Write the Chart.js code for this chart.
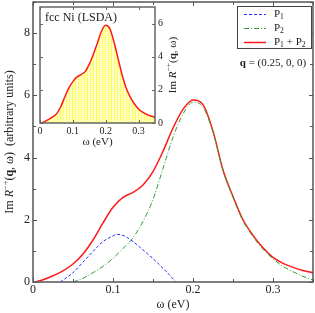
<!DOCTYPE html>
<html lang="en">
<head>
    <meta charset="UTF-8">
    <title>Im R-+ fcc Ni</title>
    <script src="https://cdn.jsdelivr.net/npm/chart.js"></script>
    <style>
        body { margin: 0; background: #fff; }
        #wrap { position: relative; width: 315px; height: 313px; }
        canvas { position: absolute; left: 0; top: 0; }
        #inset { pointer-events: none; }
    </style>
</head>
<body>
<div id="wrap">
    <canvas id="main" width="315" height="313"></canvas>
    <canvas id="inset" width="315" height="313"></canvas>
</div>
<script>
// omega in eV, values in arbitrary units
const totalOmega = [0.003, 0.0125, 0.025, 0.0375, 0.05, 0.0625, 0.075, 0.0875, 0.1, 0.1125, 0.125, 0.1375, 0.15, 0.1625, 0.175, 0.1875, 0.2, 0.2125, 0.225, 0.2375, 0.25, 0.2625, 0.275, 0.2875, 0.3, 0.3125, 0.325, 0.3375, 0.35];
const totalValues = [0, 0.07, 0.2, 0.36, 0.58, 0.9, 1.35, 1.9, 2.4, 2.72, 2.88, 3.12, 3.55, 4.2, 4.95, 5.55, 5.85, 5.7, 4.85, 3.6, 2.75, 2.0, 1.5, 1.1, 0.79, 0.6, 0.47, 0.37, 0.3];

const p1Omega = [0.034, 0.0375, 0.05, 0.0625, 0.075, 0.0875, 0.1, 0.105, 0.1125, 0.125, 0.1375, 0.15, 0.1625, 0.175, 0.178];
const p1Values = [0, 0.06, 0.3, 0.64, 0.98, 1.3, 1.48, 1.53, 1.5, 1.3, 1.03, 0.75, 0.44, 0.1, 0];

const p2Omega = [0.05, 0.0625, 0.075, 0.0875, 0.1, 0.1125, 0.125, 0.1375, 0.15, 0.1625, 0.175, 0.1875, 0.2, 0.2125, 0.225, 0.2375, 0.25, 0.2625, 0.275, 0.2875, 0.3, 0.3125, 0.325, 0.3375, 0.35];
const p2Values = [0, 0.12, 0.3, 0.5, 0.76, 1.08, 1.42, 1.95, 2.65, 3.65, 4.65, 5.4, 5.78, 5.62, 4.82, 3.58, 2.72, 1.96, 1.46, 1.05, 0.75, 0.5, 0.33, 0.18, 0.06];

const insetOmega = [0.003, 0.0125, 0.025, 0.0375, 0.05, 0.0625, 0.075, 0.0875, 0.1, 0.1125, 0.125, 0.1375, 0.15, 0.1625, 0.175, 0.1875, 0.2, 0.2125, 0.225, 0.2375, 0.25, 0.2625, 0.275, 0.2875, 0.3, 0.3125, 0.325, 0.3375, 0.35];
const insetValues = [0, 0.07, 0.2, 0.35, 0.55, 0.95, 1.55, 2.1, 2.5, 2.78, 2.92, 3.1, 3.55, 4.15, 4.85, 5.55, 5.9, 5.7, 4.9, 3.9, 2.9, 2.1, 1.55, 1.15, 0.85, 0.65, 0.52, 0.42, 0.35];

const mainXTicks = [0, 0.1, 0.2, 0.3];
const mainYTicks = [0, 2, 4, 6, 8];
const insetXTicks = [0, 0.1, 0.2, 0.3];
const insetYTicks = [0, 2, 4, 6];

const legendLabels = [[['P', ''], ['1', 'sub']], [['P', ''], ['2', 'sub']], [['P', ''], ['1', 'sub'], [' + P', ''], ['2', 'sub']]];

const SERIF = '"Liberation Serif", "DejaVu Serif", serif';
const RED = '#ff1a1a', BLUE = '#2b2bff', GREEN = '#2f9e2f';

function pts(xs, ys) { return xs.map((x, i) => ({ x: x, y: ys[i] })); }

// draw text made of styled pieces: '', 'i', 'b', 'sup', 'sub'
function richFont(style, size) {
    const s = (style === 'sup' || style === 'sub') ? size * 0.7 : size;
    const w = style === 'b' ? 'bold ' : '';
    const it = style === 'i' ? 'italic ' : '';
    return it + w + s + 'px ' + SERIF;
}
function drawRich(ctx, segs, x, y, size, align) {
    ctx.textBaseline = 'middle';
    ctx.textAlign = 'left';
    let total = 0;
    segs.forEach(s => { ctx.font = richFont(s[1], size); total += ctx.measureText(s[0]).width; });
    let cx = align === 'center' ? x - total / 2 : align === 'right' ? x - total : x;
    segs.forEach(s => {
        ctx.font = richFont(s[1], size);
        let dy = s[1] === 'sup' ? -size * 0.38 : s[1] === 'sub' ? size * 0.28 : 0;
        ctx.fillText(s[0], cx, y + dy);
        cx += ctx.measureText(s[0]).width;
    });
}
const imTitle = [['Im ', ''], ['R', 'i'], ['\u2212+', 'sup'], ['(', ''], ['q', 'b'], [', \u03c9)', '']];

function drawTicks(ctx, a, xs, ys, xVals, yVals, len) {
    xVals.forEach(v => {
        const p = Math.round(xs.getPixelForValue(v)) + 0.5;
        ctx.beginPath();
        ctx.moveTo(p, a.bottom); ctx.lineTo(p, a.bottom - len);
        ctx.moveTo(p, a.top); ctx.lineTo(p, a.top + len);
        ctx.stroke();
    });
    yVals.forEach(v => {
        const p = Math.round(ys.getPixelForValue(v)) + 0.5;
        ctx.beginPath();
        ctx.moveTo(a.left, p); ctx.lineTo(a.left + len, p);
        ctx.moveTo(a.right, p); ctx.lineTo(a.right - len, p);
        ctx.stroke();
    });
}

const mainDecor = {
    id: 'mainDecor',
    afterDraw(chart) {
        const { ctx, chartArea: a, scales: { x, y } } = chart;
        ctx.save();
        ctx.strokeStyle = '#555';
        ctx.lineWidth = 1;
        // minor ticks every half step
        const xMinor = [], yMinor = [];
        for (let i = 0; i < mainXTicks.length; i++) xMinor.push(mainXTicks[i] + 0.05);
        for (let i = 0; i < mainYTicks.length; i++) yMinor.push(mainYTicks[i] + 1);
        drawTicks(ctx, a, x, y, mainXTicks, mainYTicks, 4);
        drawTicks(ctx, a, x, y, xMinor, yMinor, 3);
        ctx.lineWidth = 1.5;
        ctx.strokeRect(a.left, a.top, a.right - a.left, a.bottom - a.top);

        ctx.fillStyle = '#222';
        ctx.font = '12px ' + SERIF;
        ctx.textAlign = 'center';
        ctx.textBaseline = 'middle';
        mainXTicks.forEach(v => ctx.fillText(String(v), x.getPixelForValue(v), 290));
        ctx.textAlign = 'right';
        mainYTicks.forEach(v => ctx.fillText(String(v), 30, y.getPixelForValue(v)));
        drawRich(ctx, [['\u03c9 (eV)', '']], (a.left + a.right) / 2, 305, 12, 'center');

        ctx.save();
        ctx.translate(10, (a.top + a.bottom) / 2);
        ctx.rotate(-Math.PI / 2);
        drawRich(ctx, imTitle.concat([['  (arbitrary units)', '']]), 0, 0, 12, 'center');
        ctx.restore();

        // legend box
        ctx.fillStyle = '#fff';
        ctx.fillRect(237, 6, 75, 43);
        ctx.strokeStyle = '#444';
        ctx.lineWidth = 1;
        ctx.strokeRect(237.5, 6.5, 74, 42);
        const rows = [14, 28, 42];
        chart.data.datasets.forEach((ds, i) => {
            ctx.save();
            ctx.strokeStyle = ds.borderColor;
            ctx.lineWidth = ds.borderWidth;
            ctx.setLineDash(ds.borderDash || []);
            ctx.beginPath();
            ctx.moveTo(244, rows[i] + 0.5);
            ctx.lineTo(266, rows[i] + 0.5);
            ctx.stroke();
            ctx.restore();
            ctx.fillStyle = '#222';
            drawRich(ctx, legendLabels[i], 274, rows[i], 11, 'left');
        });
        ctx.fillStyle = '#222';
        drawRich(ctx, [['q', 'b'], [' = (0.25, 0, 0)', '']], 273, 63, 11, 'center');
        ctx.restore();
    }
};

const insetDecor = {
    id: 'insetDecor',
    beforeDatasetsDraw(chart) {
        const { ctx, chartArea: a } = chart;
        ctx.save();
        ctx.fillStyle = '#fff';
        ctx.fillRect(a.left, a.top, a.right - a.left, a.bottom - a.top);
        ctx.restore();
    },
    afterDraw(chart) {
        const { ctx, chartArea: a, scales: { x, y } } = chart;
        ctx.save();
        ctx.strokeStyle = '#666';
        ctx.lineWidth = 1;
        drawTicks(ctx, a, x, y, insetXTicks, insetYTicks, 3);
        ctx.lineWidth = 1.5;
        ctx.strokeRect(a.left, a.top, a.right - a.left, a.bottom - a.top);
        ctx.fillStyle = '#222';
        ctx.font = '10px ' + SERIF;
        ctx.textAlign = 'center';
        ctx.textBaseline = 'middle';
        insetXTicks.forEach(v => ctx.fillText(String(v), x.getPixelForValue(v), 131));
        ctx.textAlign = 'left';
        insetYTicks.forEach(v => ctx.fillText(String(v), 158, y.getPixelForValue(v)));
        drawRich(ctx, [['\u03c9 (eV)', '']], (a.left + a.right) / 2, 142, 11, 'center');
        drawRich(ctx, [['fcc Ni (LSDA)', '']], 45, 18, 12, 'left');
        ctx.save();
        ctx.translate(173, (a.top + a.bottom) / 2);
        ctx.rotate(-Math.PI / 2);
        drawRich(ctx, imTitle, 0, 0, 11, 'center');
        ctx.restore();
        ctx.restore();
    }
};

// pale striped yellow fill for the inset
function stripePattern() {
    const c = document.createElement('canvas');
    c.width = 3; c.height = 2;
    const g = c.getContext('2d');
    g.fillStyle = '#ffff55'; g.fillRect(0, 0, 1, 2);
    g.fillStyle = '#ffffc8'; g.fillRect(1, 0, 1, 2);
    g.fillStyle = '#ffffff'; g.fillRect(2, 0, 1, 2);
    g.fillStyle = '#ffff99'; g.fillRect(2, 1, 1, 1);
    return g.createPattern(c, 'repeat');
}

const lineOpts = { pointRadius: 0, fill: false, cubicInterpolationMode: 'monotone' };

new Chart(document.getElementById('main').getContext('2d'), {
    type: 'line',
    data: {
        datasets: [
            Object.assign({ label: 'P1', data: pts(p1Omega, p1Values), borderColor: BLUE, borderWidth: 1, borderDash: [3, 2] }, lineOpts),
            Object.assign({ label: 'P2', data: pts(p2Omega, p2Values), borderColor: GREEN, borderWidth: 1, borderDash: [5, 2, 1, 2] }, lineOpts),
            Object.assign({ label: 'P1 + P2', data: pts(totalOmega, totalValues), borderColor: RED, borderWidth: 1.5 }, lineOpts)
        ]
    },
    options: {
        responsive: false,
        animation: false,
        layout: { padding: { top: 2, right: 2, left: 0, bottom: 0 } },
        plugins: { legend: { display: false }, tooltip: { enabled: false } },
        scales: {
            x: {
                type: 'linear', min: 0, max: 0.35,
                ticks: { display: false }, grid: { display: false }, border: { display: false },
                afterFit(s) { s.height = 31; }
            },
            y: {
                min: 0, max: 9,
                ticks: { display: false }, grid: { display: false }, border: { display: false },
                afterFit(s) { s.width = 33; }
            }
        }
    },
    plugins: [mainDecor]
});

new Chart(document.getElementById('inset').getContext('2d'), {
    type: 'line',
    data: {
        datasets: [
            Object.assign({}, lineOpts, { label: 'total', data: pts(insetOmega, insetValues), borderColor: RED, borderWidth: 1.5, fill: 'origin', backgroundColor: stripePattern() })
        ]
    },
    options: {
        responsive: false,
        animation: false,
        layout: { padding: { top: 7, left: 40, right: 0, bottom: 0 } },
        plugins: { legend: { display: false }, tooltip: { enabled: false } },
        scales: {
            x: {
                type: 'linear', min: 0, max: 0.35,
                ticks: { display: false }, grid: { display: false }, border: { display: false },
                afterFit(s) { s.height = 190; }
            },
            y: {
                position: 'right', min: 0, max: 7,
                ticks: { display: false }, grid: { display: false }, border: { display: false },
                afterFit(s) { s.width = 160; }
            }
        }
    },
    plugins: [insetDecor]
});
</script>
</body>
</html>
